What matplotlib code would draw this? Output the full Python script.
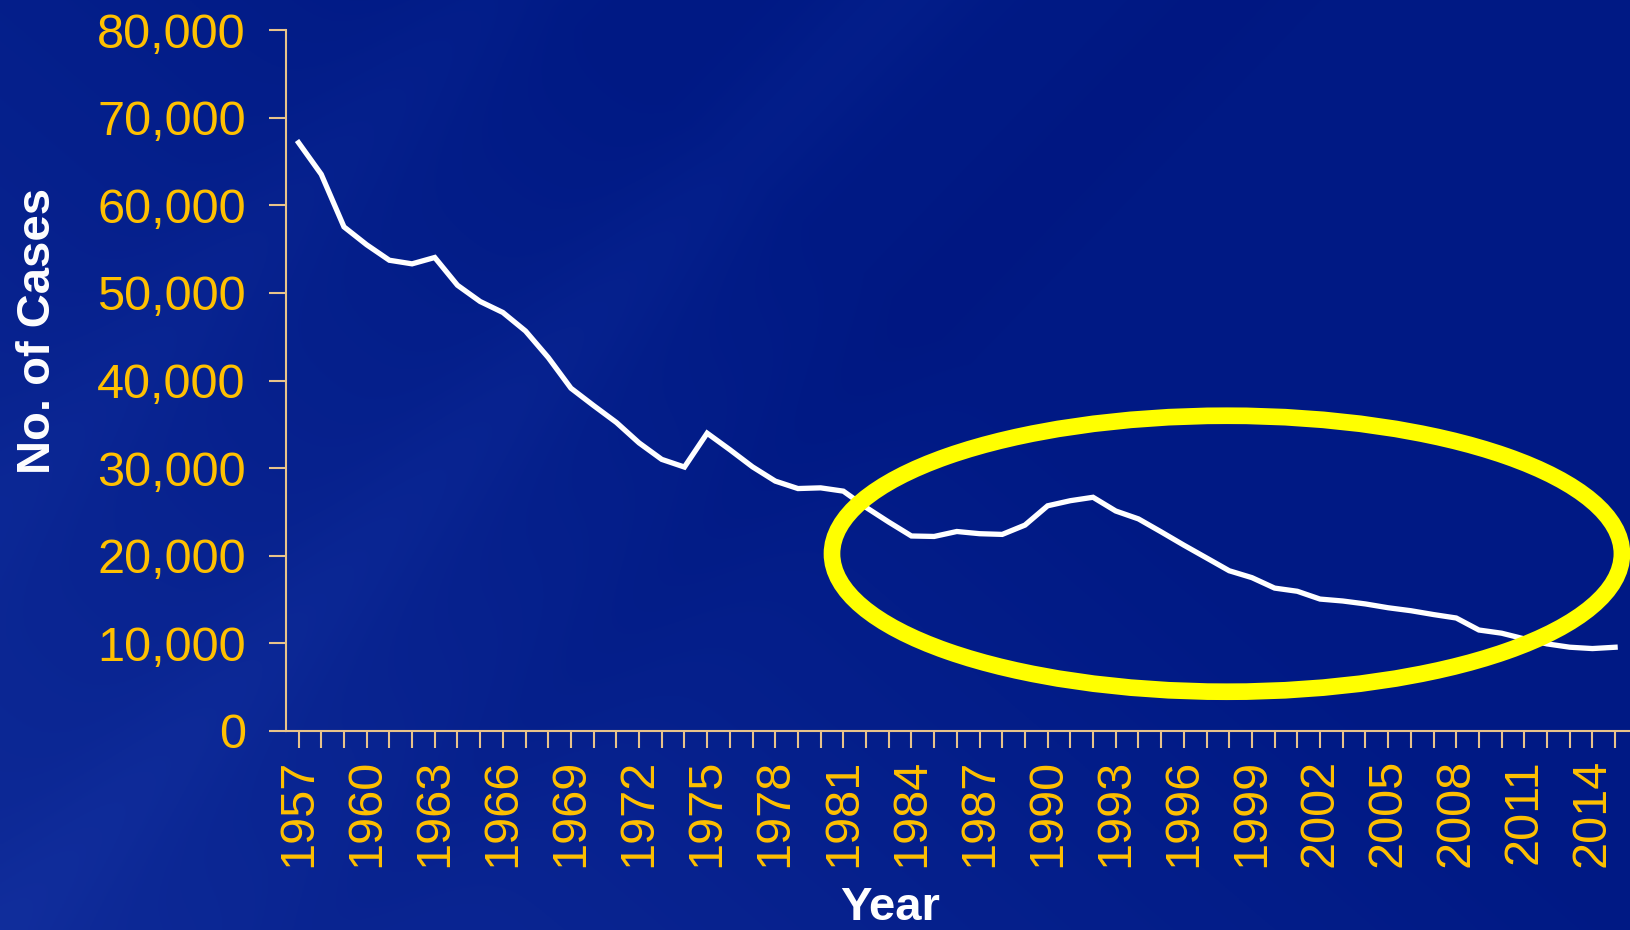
import numpy as np
import matplotlib
matplotlib.use("Agg")
import matplotlib.pyplot as plt
from matplotlib.patches import Ellipse

# TB cases per year
years = list(range(1957, 2016))
cases = [67149, 63534, 57535, 55494, 53726, 53315, 54042, 50874, 49016, 47767,
         45647, 42623, 39120, 37137, 35217, 32882, 30998, 30122, 33989, 32105,
         30145, 28521, 27669, 27749, 27373, 25520, 23846, 22255, 22201, 22768,
         22517, 22436, 23495, 25701, 26283, 26673, 25107, 24205, 22727, 21210,
         19751, 18287, 17500, 16308, 15945, 15055, 14836, 14500, 14065, 13727,
         13288, 12895, 11523, 11161, 10510, 9940, 9561, 9406, 9557]
label_years = list(range(1957, 2016, 3))
y_ticks = list(range(0, 80001, 10000))

gold = "#FFC000"
spine_col = "#E8C38A"

plt.rcParams['font.family'] = ['Liberation Sans', 'DejaVu Sans']

fig = plt.figure(figsize=(16.31, 9.30), dpi=100)

# background: dark navy with lighter lower-left and faint diagonal bands
bg = fig.add_axes([0, 0, 1, 1], zorder=-10)
h, w = 465, 816
yy, xx = np.mgrid[0:h, 0:w]
u = xx / w
v = yy / h  # 0 at top
base = np.array([0.0, 0.10, 0.52])
light = np.array([0.06, 0.17, 0.60])
t = np.clip(((1 - u) * 0.9 + v * 0.6) - 0.6, 0, 1)
img = base[None, None, :] * (1 - t[..., None]) + light[None, None, :] * t[..., None]
# subtle diagonal streaks
d = u * 1.0 + (v) * 0.55
for c0, amp in [(0.30, 0.015), (0.55, 0.02), (0.75, -0.01)]:
    band = np.exp(-((d - c0) / 0.05) ** 2) * amp
    img = img + band[..., None] * np.array([0.6, 0.8, 1.0])
img = np.clip(img, 0, 1)
bg.imshow(img, aspect='auto', extent=[0, 1, 0, 1], origin='upper')
bg.axis('off')

ax = fig.add_axes([0.1754, 0.214, 0.8246, 0.7537])
ax.patch.set_alpha(0)
ax.plot(years, cases, color='white', lw=3.8, solid_joinstyle='miter', zorder=3)

ax.set_xlim(1956.45, 2015.7)
ax.set_ylim(0, 80000)
ax.set_xticks(years)
ax.set_xticklabels([str(yr) if yr in label_years else '' for yr in years],
                   rotation=90, fontsize=35, color=gold)
ax.set_yticks(y_ticks)
ax.set_yticklabels([f"{t:,}" for t in y_ticks], fontsize=35, color=gold)
ax.tick_params(axis='both', direction='out', length=12, width=1.5, color=spine_col)
ax.tick_params(axis='y', pad=17)
ax.tick_params(axis='x', pad=8)

for s in ['top', 'right']:
    ax.spines[s].set_visible(False)
for s in ['left', 'bottom']:
    ax.spines[s].set_color(spine_col)
    ax.spines[s].set_linewidth(1.5)

ax.set_ylabel("No. of Cases", fontsize=34, fontweight='bold', color='white')
ax.yaxis.set_label_coords(-0.168, 0.571)
fig.text(0.546, 0.024, "Year", fontsize=34, fontweight='bold', color='white',
         ha='center', va='center')

# highlight ellipse
ell = Ellipse((1997.9, 20230), 34.8, 31500, fill=False, edgecolor='#FFFF00',
              lw=12, clip_on=False, zorder=4)
ax.add_patch(ell)

fig.savefig("out.png", dpi=100)
